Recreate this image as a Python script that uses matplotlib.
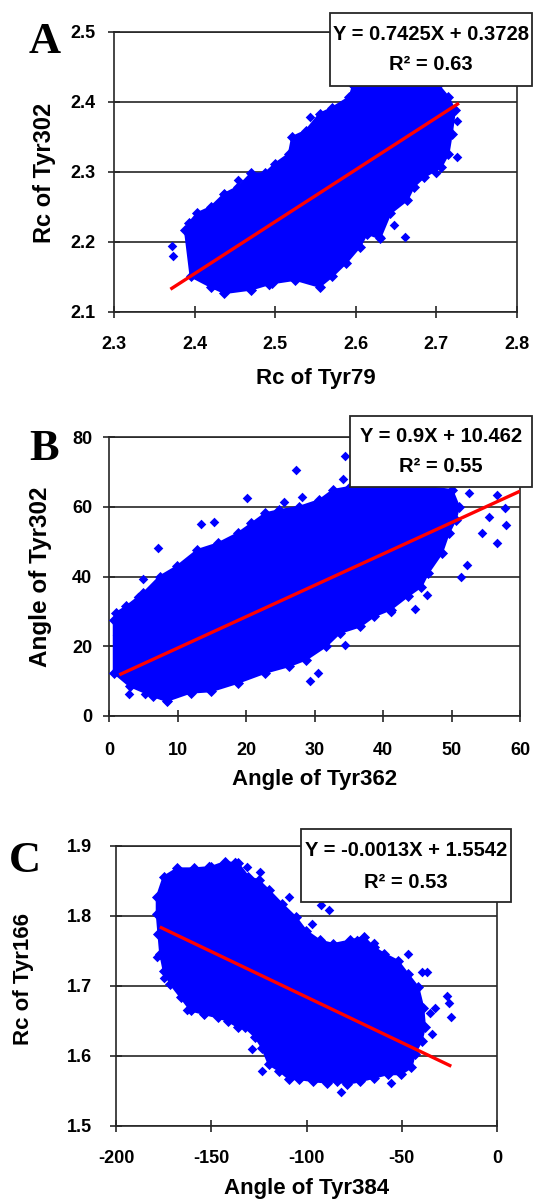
import matplotlib
matplotlib.use("Agg")
import matplotlib.pyplot as plt
from matplotlib.patches import Rectangle, Polygon
import numpy as np

plt.rcParams['font.family'] = ['Liberation Sans', 'DejaVu Sans']
plt.rcParams['font.weight'] = 'bold'
plt.rcParams['axes.unicode_minus'] = False

# ---------------- Panel A data ----------------
a_xticks = [2.3, 2.4, 2.5, 2.6, 2.7, 2.8]
a_yticks = [2.1, 2.2, 2.3, 2.4, 2.5]
a_cloud_x = [2.388, 2.395, 2.420, 2.437, 2.470, 2.496, 2.525, 2.555, 2.571, 2.588, 2.605,
             2.614, 2.630, 2.643, 2.664, 2.672, 2.685, 2.706, 2.715, 2.719, 2.723, 2.715,
             2.702, 2.650, 2.597, 2.592, 2.571, 2.555, 2.538, 2.521, 2.517, 2.500, 2.487,
             2.470, 2.454, 2.437, 2.420, 2.403, 2.393]
a_cloud_y = [2.217, 2.151, 2.136, 2.127, 2.132, 2.141, 2.146, 2.136, 2.151, 2.170, 2.193,
             2.212, 2.205, 2.241, 2.260, 2.279, 2.293, 2.307, 2.326, 2.354, 2.388, 2.407,
             2.425, 2.430, 2.425, 2.407, 2.392, 2.383, 2.359, 2.350, 2.326, 2.312, 2.298,
             2.298, 2.279, 2.269, 2.250, 2.241, 2.227]
a_out_x = [2.372, 2.373, 2.454, 2.543, 2.647, 2.661, 2.725, 2.725, 2.700, 2.492, 2.437, 2.630]
a_out_y = [2.194, 2.180, 2.288, 2.379, 2.224, 2.207, 2.321, 2.373, 2.298, 2.139, 2.269, 2.207]
a_fit = (0.7425, 0.3728)
a_fit_x = [2.37, 2.728]
a_eq = ["Y = 0.7425X + 0.3728", "R\u00b2 = 0.63"]

# ---------------- Panel B data ----------------
b_xticks = [0, 10, 20, 30, 40, 50, 60]
b_yticks = [0, 20, 40, 60, 80]
b_cloud_x = [0.7, 0.7, 3.0, 6.4, 8.4, 11.9, 14.9, 18.8, 22.8, 26.3, 28.8, 31.7, 33.7, 36.7,
             38.7, 41.1, 43.6, 45.6, 46.6, 48.6, 49.6, 50.6, 51.1, 50.1, 45.0, 35.2, 32.7,
             30.7, 27.8, 24.8, 22.8, 20.8, 18.8, 15.9, 12.9, 9.9, 7.4, 5.0, 2.5, 1.0]
b_cloud_y = [27.6, 12.4, 8.6, 5.7, 4.3, 6.7, 7.1, 9.5, 12.4, 14.3, 16.2, 20.0, 23.8, 25.7,
             28.6, 30.5, 34.3, 37.1, 41.0, 46.7, 52.4, 56.2, 60.0, 64.8, 66.0, 65.7, 64.8,
             61.9, 60.0, 59.0, 58.1, 55.2, 52.4, 49.5, 47.6, 42.9, 40.0, 35.2, 31.4, 29.5]
b_out_x = [27.3, 34.5, 34.2, 20.2, 7.2, 13.5, 15.3, 5.0, 4.2, 1.4, 1.2, 2.9, 5.3, 8.4,
           29.3, 30.5, 44.6, 34.5, 41.2, 46.4, 25.6, 28.2, 55.5, 57.8, 57.9, 56.6, 54.4,
           52.3, 51.4, 56.7, 52.6]
b_out_y = [70.5, 74.5, 68.1, 62.4, 48.3, 55.0, 55.5, 39.3, 34.1, 27.8, 23.3, 6.2, 6.2, 4.3,
           10.0, 12.2, 30.7, 20.5, 29.8, 34.8, 61.4, 62.7, 57.1, 59.5, 54.8, 49.7, 52.4,
           43.3, 40.0, 63.3, 63.8]
b_fit = (0.9, 10.462)
b_fit_x = [1.5, 60.0]
b_eq = ["Y = 0.9X + 10.462", "R\u00b2 = 0.55"]

# ---------------- Panel C data ----------------
c_xticks = [-200, -150, -100, -50, 0]
c_yticks = [1.5, 1.6, 1.7, 1.8, 1.9]
c_cloud_x = [-178.6, -175.0, -167.9, -159.0, -150.1, -143.0, -135.8, -130.5, -125.1, -119.8,
             -112.7, -105.5, -100.2, -93.0, -85.9, -77.0, -69.9, -64.5, -59.2, -52.0, -46.7,
             -41.3, -38.7, -37.8, -39.6, -43.1, -44.9, -50.3, -57.4, -64.5, -71.7, -78.8,
             -84.1, -89.5, -96.6, -103.7, -109.1, -114.4, -119.8, -123.4, -126.9, -132.3,
             -135.8, -141.2, -146.5, -153.7, -160.8, -166.1, -171.5, -175.0, -176.8, -177.7,
             -178.6]
c_cloud_y = [1.827, 1.856, 1.868, 1.868, 1.870, 1.877, 1.875, 1.856, 1.851, 1.837, 1.817,
             1.798, 1.779, 1.765, 1.760, 1.765, 1.770, 1.755, 1.746, 1.736, 1.717, 1.698,
             1.669, 1.641, 1.622, 1.603, 1.584, 1.574, 1.574, 1.569, 1.564, 1.560, 1.564,
             1.562, 1.564, 1.567, 1.567, 1.579, 1.588, 1.612, 1.627, 1.641, 1.641, 1.650,
             1.655, 1.660, 1.665, 1.684, 1.703, 1.722, 1.746, 1.774, 1.803]
c_out_x = [-178.3, -175.0, -162.6, -154.0, -151.0, -131.0, -124.2, -109.1, -92.2, -88.1,
           -97.0, -39.6, -36.9, -46.7, -26.2, -25.0, -24.4, -32.4, -35.1, -34.2, -55.6,
           -81.8, -128.7, -123.4, -64.5, -73.4, -137.6, -167.9]
c_out_y = [1.741, 1.712, 1.665, 1.660, 1.871, 1.870, 1.863, 1.827, 1.815, 1.809, 1.789,
           1.720, 1.720, 1.746, 1.686, 1.675, 1.655, 1.669, 1.662, 1.631, 1.562, 1.548,
           1.610, 1.579, 1.762, 1.765, 1.877, 1.865]
c_fit = (-0.0013, 1.5542)
c_fit_x = [-177.0, -24.0]
c_eq = ["Y = -0.0013X + 1.5542", "R\u00b2 = 0.53"]

# ---------------- layout ----------------
W, H = 533, 1201
fig = plt.figure(figsize=(W / 100, H / 100), dpi=100)
fig.patch.set_facecolor('white')

BLUE = '#0000FF'
RED = '#FF0000'
GRID = '#262626'


def rect(l, r, t, b):
    return [l / W, 1 - b / H, (r - l) / W, (b - t) / H]


def ftext(x, y, s, **kw):
    return fig.text(x / W, 1 - y / H, s, **kw)


def panel(box, xticks, yticks, cx, cy, ox, oy, fit, fitx, xpad, ypad, fmt):
    ax = fig.add_axes(rect(*box))
    ax.set_axisbelow(True)
    ax.add_patch(Polygon(np.column_stack([cx, cy]), closed=True, facecolor=BLUE,
                         edgecolor=BLUE, linewidth=1.5, zorder=2))
    ax.scatter(cx, cy, marker='D', s=32, color=BLUE, linewidths=0, zorder=3)
    ax.scatter(ox, oy, marker='D', s=24, color=BLUE, linewidths=0, zorder=3)
    m, b0 = fit
    fy = [m * v + b0 for v in fitx]
    ax.plot(fitx, fy, color=RED, linewidth=2.4, zorder=4, solid_capstyle='butt')
    ax.set_xlim(xticks[0], xticks[-1])
    ax.set_ylim(yticks[0], yticks[-1])
    ax.set_xticks(xticks)
    ax.set_yticks(yticks)
    ax.set_xticklabels([fmt[0].format(v) for v in xticks])
    ax.set_yticklabels([fmt[1].format(v) for v in yticks])
    ax.yaxis.grid(True, color=GRID, linewidth=1.2)
    for sp in ax.spines.values():
        sp.set_color(GRID)
        sp.set_linewidth(1.2)
    ax.tick_params(axis='both', direction='inout', length=9, width=1.2, color=GRID,
                   labelsize=13)
    ax.tick_params(axis='x', pad=xpad)
    ax.tick_params(axis='y', pad=ypad)
    return ax


axA = panel((114, 517, 32, 312), a_xticks, a_yticks, a_cloud_x, a_cloud_y, a_out_x, a_out_y,
            a_fit, a_fit_x, 12.5, 8.5, ("{:.1f}", "{:.1f}"))
axB = panel((109, 520, 437, 716), b_xticks, b_yticks, b_cloud_x, b_cloud_y, b_out_x, b_out_y,
            b_fit, b_fit_x, 14.5, 7.7, ("{:d}", "{:d}"))
axC = panel((116, 497, 846, 1126), c_xticks, c_yticks, c_cloud_x, c_cloud_y, c_out_x, c_out_y,
            c_fit, c_fit_x, 12.5, 13.0, ("{:d}", "{:.1f}"))

# axis labels
LBL = 16
ftext(44, 173, "Rc of Tyr302", rotation=90, ha='center', va='center', fontsize=17)
ftext(315.5, 384, "Rc of Tyr79", ha='center', va='baseline', fontsize=LBL)
ftext(41, 577, "Angle of Tyr302", rotation=90, ha='center', va='center', fontsize=17.5)
ftext(314.5, 785, "Angle of Tyr362", ha='center', va='baseline', fontsize=LBL)
ftext(23, 979, "Rc of Tyr166", rotation=90, ha='center', va='center', fontsize=16)
ftext(306.5, 1194, "Angle of Tyr384", ha='center', va='baseline', fontsize=LBL)

# panel letters
for (x, y, s) in [(45, 53, "A"), (44, 460, "B"), (25, 872, "C")]:
    ftext(x, y, s, ha='center', va='baseline', fontsize=32,
          family=['Liberation Serif', 'DejaVu Serif'], fontweight='bold')

# equation boxes
def eqbox(l, r, t, b, y1, y2, lines):
    fig.patches.append(Rectangle((l / W, 1 - b / H), (r - l) / W, (b - t) / H,
                                 transform=fig.transFigure, facecolor='white',
                                 edgecolor=GRID, linewidth=1.3, zorder=5))
    cx = (l + r) / 2
    ftext(cx, y1, lines[0], ha='center', va='center', fontsize=14.5, zorder=6)
    ftext(cx, y2, lines[1], ha='center', va='center', fontsize=14.5, zorder=6)

eqbox(330, 532, 13, 86, 34, 65, a_eq)
eqbox(350, 532, 416, 487, 437, 467, b_eq)
eqbox(301, 511, 829, 902, 851, 882, c_eq)

fig.savefig("out.png", dpi=100, facecolor='white')
